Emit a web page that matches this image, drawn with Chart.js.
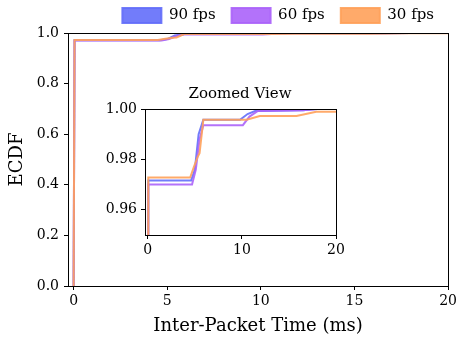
<!DOCTYPE html>
<html>
<head>
<meta charset="utf-8">
<script src="https://cdn.jsdelivr.net/npm/chart.js@4"></script>
<style>
  html, body { margin: 0; padding: 0; background: #fff; }
  #wrap { position: relative; width: 460px; height: 340px; }
  #main { position: absolute; left: 0; top: 0; }
  #inset { position: absolute; left: 90px; top: 80px; }
</style>
</head>
<body>
<div id="wrap">
  <canvas id="main" width="460" height="340"></canvas>
  <canvas id="inset" width="300" height="190"></canvas>
</div>
<script>
// ECDF breakpoints (x in ms, y = cumulative fraction)
const labels = ['90 fps', '60 fps', '30 fps'];
const colors = ['rgba(99,110,250,0.9)', 'rgba(171,99,250,0.9)', 'rgba(255,161,90,0.9)'];

const x90 = [0, 0.05, 4.6, 5.0, 5.4, 5.9, 9.8, 10.6, 11.4, 16.5, 18.0, 20];
const y90 = [0, 0.9716, 0.9716, 0.976, 0.990, 0.9957, 0.9957, 0.9980, 0.9992, 0.9995, 1.0, 1.0];

const x60 = [0, 0.05, 4.7, 5.1, 5.5, 5.9, 10.1, 10.8, 11.7, 16.5, 18.0, 20];
const y60 = [0, 0.9700, 0.9700, 0.976, 0.988, 0.9936, 0.9936, 0.9970, 0.9992, 0.9995, 1.0, 1.0];

const x30 = [0, 0.05, 4.5, 4.9, 5.3, 5.5, 5.9, 10.5, 11.9, 15.8, 17.9, 20];
const y30 = [0, 0.9728, 0.9728, 0.977, 0.981, 0.9825, 0.9957, 0.9957, 0.9972, 0.9972, 0.9989, 0.9989];

const seriesX = [x90, x60, x30];
const seriesY = [y90, y60, y30];

const mainXTicks = [0, 5, 10, 15, 20];
const mainYTicks = [0, 0.2, 0.4, 0.6, 0.8, 1.0];
const insetXTicks = [0, 10, 20];
const insetYTicks = [0.96, 0.98, 1.00];

const FONT = "'DejaVu Serif', serif";

function datasets(width) {
  return labels.map((l, i) => ({
    label: l,
    data: seriesX[i].map((x, j) => ({ x, y: seriesY[i][j] })),
    borderColor: colors[i],
    backgroundColor: colors[i],
    borderWidth: width,
    pointRadius: 0,
    tension: 0,
    order: labels.length - i
  }));
}

// draw the full axes frame, and an optional white face
const frame = {
  id: 'frame',
  beforeDraw(chart, args, opts) {
    if (!opts.fill) return;
    const a = chart.chartArea, ctx = chart.ctx;
    ctx.save();
    ctx.fillStyle = '#fff';
    ctx.fillRect(a.left, a.top, a.right - a.left, a.bottom - a.top);
    ctx.restore();
  },
  afterDraw(chart) {
    const a = chart.chartArea, ctx = chart.ctx;
    ctx.save();
    ctx.strokeStyle = '#000';
    ctx.lineWidth = 1;
    ctx.strokeRect(Math.round(a.left) + 0.5, Math.round(a.top) + 0.5,
      Math.round(a.right - a.left), Math.round(a.bottom - a.top));
    ctx.restore();
  }
};

function axis(opts) {
  return Object.assign({
    type: 'linear',
    grid: { drawOnChartArea: false, drawTicks: true, tickLength: 4, color: '#000' },
    border: { display: true, color: '#000' },
  }, opts);
}

new Chart(document.getElementById('main'), {
  type: 'line',
  data: { datasets: datasets(2) },
  options: {
    responsive: false,
    animation: false,
    layout: { padding: { top: -8, right: 10, left: 0, bottom: 0 } },
    plugins: {
      legend: {
        position: 'top',
        align: 'end',
        labels: {
          boxWidth: 39, boxHeight: 15, padding: 16,
          color: '#000', font: { family: FONT, size: 15 },
          sort: (a, b) => a.datasetIndex - b.datasetIndex
        }
      },
      tooltip: { enabled: false },
      frame: { fill: false }
    },
    scales: {
      x: axis({
        min: -0.3, max: 20,
        afterBuildTicks: s => { s.ticks = mainXTicks.map(v => ({ value: v })); },
        afterFit: s => { s.height = 54; },
        ticks: { color: '#000', padding: 3, maxRotation: 0, font: { family: FONT, size: 14 }, callback: v => String(v) },
        title: { display: true, text: 'Inter-Packet Time (ms)', color: '#000', font: { family: FONT, size: 18 }, padding: { top: 2, bottom: 3 } }
      }),
      y: axis({
        min: 0, max: 1,
        afterBuildTicks: s => { s.ticks = mainYTicks.map(v => ({ value: v })); },
        afterFit: s => { s.width = 68; },
        ticks: { color: '#000', padding: 5, font: { family: FONT, size: 14 }, callback: v => v.toFixed(1) },
        title: { display: true, text: 'ECDF', color: '#000', font: { family: FONT, size: 18 }, padding: { top: 7, bottom: 0 } }
      })
    }
  },
  plugins: [frame]
});

new Chart(document.getElementById('inset'), {
  type: 'line',
  data: { datasets: datasets(2) },
  options: {
    responsive: false,
    animation: false,
    layout: { padding: 0 },
    plugins: {
      legend: { display: false },
      tooltip: { enabled: false },
      title: { display: true, text: 'Zoomed View', color: '#000', font: { family: FONT, size: 15, weight: 'normal' }, padding: { top: 5, bottom: 6 } },
      frame: { fill: true }
    },
    scales: {
      x: axis({
        min: -0.3, max: 20,
        afterBuildTicks: s => { s.ticks = insetXTicks.map(v => ({ value: v })); },
        afterFit: s => { s.height = 35; },
        ticks: { color: '#000', padding: 3, maxRotation: 0, font: { family: FONT, size: 14 }, callback: v => String(v) }
      }),
      y: axis({
        min: 0.95, max: 1.0,
        afterBuildTicks: s => { s.ticks = insetYTicks.map(v => ({ value: v })); },
        afterFit: s => { s.width = 55; },
        ticks: { color: '#000', padding: 4, font: { family: FONT, size: 14 }, callback: v => v.toFixed(2) }
      }),
      // empty right-hand spacer so the title centres over the inset axes
      pad: {
        type: 'linear', position: 'right', display: true,
        grid: { display: false }, border: { display: false }, ticks: { display: false },
        afterFit: s => { s.width = 54; }
      }
    }
  },
  plugins: [frame]
});
</script>
</body>
</html>
